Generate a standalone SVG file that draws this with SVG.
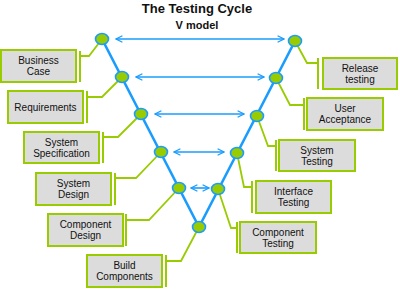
<svg xmlns="http://www.w3.org/2000/svg" width="400" height="289" viewBox="0 0 400 289">
<defs>
<style>
.t{font-family:"Liberation Sans",Arial,sans-serif;fill:#111;text-anchor:middle}
.ti{font-weight:bold;}
.bx{fill:#dcdcdc;stroke:#99cc00;stroke-width:2}
.br{stroke:#99cc00;stroke-width:2;fill:none}
.cn{stroke:#99cc00;stroke-width:1.8;fill:none}
.v{stroke:#1a9cff;stroke-width:2.6;fill:none}
.ar{stroke:#1a9cff;stroke-width:1.6;fill:none;marker-start:url(#ah);marker-end:url(#ah)}
.nd{fill:#99cc00;stroke:#1a9cff;stroke-width:1.6}
.lb{font-size:10px}
</style>
<marker id="ah" viewBox="0 0 10 10" refX="9" refY="5" markerWidth="8" markerHeight="8" markerUnits="userSpaceOnUse" orient="auto-start-reverse">
<path d="M1,1 L9,5 L1,9" stroke="#1a9cff" stroke-width="1.6" fill="none"/>
</marker>
</defs>
<rect width="400" height="289" fill="#fff"/>
<text class="t ti" x="197" y="13" font-size="13">The Testing Cycle</text>
<text class="t ti" x="197" y="29" font-size="11">V model</text>

<g id="connectors">
<polyline class="v" points="102,39 199,227 295,41"/>
<line class="ar" x1="116" y1="39" x2="284" y2="39"/>
<line class="ar" x1="136" y1="77" x2="264" y2="77"/>
<line class="ar" x1="155" y1="114" x2="244" y2="114"/>
<line class="ar" x1="174" y1="152" x2="224" y2="152"/>
<line class="ar" x1="191" y1="188" x2="209" y2="188"/>
<polyline class="cn" points="80,56 89,56 102,39"/>
<polyline class="cn" points="87,97 102,97 122,77"/>
<polyline class="cn" points="103,137 118,137 141,114"/>
<polyline class="cn" points="115,178 136,178 161,152"/>
<polyline class="cn" points="126,220 149,220 179,188"/>
<polyline class="cn" points="166,261 181,261 199,227"/>
<polyline class="cn" points="295,41 307,63 318,63"/>
<polyline class="cn" points="276,78 290,105 304,105"/>
<polyline class="cn" points="257,116 268,146 276,146"/>
<polyline class="cn" points="237,153 244,187 252,187"/>
<polyline class="cn" points="218,189 231,228 237,228"/>
</g>

<g id="n-business-case">
<line class="br" x1="80" y1="51" x2="80" y2="82"/>
<rect class="bx" x="1" y="50" width="75" height="32"/>
<text class="t lb" x="38.5" y="64">Business</text>
<text class="t lb" x="38.5" y="75">Case</text>
</g>
<g id="n-requirements">
<line class="br" x1="87" y1="91" x2="87" y2="123"/>
<rect class="bx" x="8" y="91" width="75" height="32"/>
<text class="t lb" x="45.5" y="110.5">Requirements</text>
</g>
<g id="n-system-spec">
<line class="br" x1="103" y1="132" x2="103" y2="163"/>
<rect class="bx" x="24" y="132" width="75" height="31"/>
<text class="t lb" x="61.5" y="145.5">System</text>
<text class="t lb" x="61.5" y="156.5">Specification</text>
</g>
<g id="n-system-design">
<line class="br" x1="115" y1="173" x2="115" y2="205"/>
<rect class="bx" x="36" y="173" width="75" height="32"/>
<text class="t lb" x="73.5" y="187">System</text>
<text class="t lb" x="73.5" y="198">Design</text>
</g>
<g id="n-component-design">
<line class="br" x1="126" y1="214" x2="126" y2="246"/>
<rect class="bx" x="48" y="214" width="75" height="32"/>
<text class="t lb" x="85.5" y="228">Component</text>
<text class="t lb" x="85.5" y="239">Design</text>
</g>
<g id="n-build-components">
<line class="br" x1="166" y1="255" x2="166" y2="287"/>
<rect class="bx" x="87" y="255" width="75" height="32"/>
<text class="t lb" x="124.5" y="269">Build</text>
<text class="t lb" x="124.5" y="280">Components</text>
</g>

<g id="n-release-testing">
<line class="br" x1="318" y1="58" x2="318" y2="89"/>
<rect class="bx" x="323" y="58" width="74" height="31"/>
<text class="t lb" x="360" y="72">Release</text>
<text class="t lb" x="360" y="83">testing</text>
</g>
<g id="n-user-acceptance">
<line class="br" x1="304" y1="98" x2="304" y2="130"/>
<rect class="bx" x="307" y="98" width="76" height="32"/>
<text class="t lb" x="345" y="112">User</text>
<text class="t lb" x="345" y="123">Acceptance</text>
</g>
<g id="n-system-testing">
<line class="br" x1="276" y1="140" x2="276" y2="171"/>
<rect class="bx" x="279" y="140" width="76" height="31"/>
<text class="t lb" x="317" y="154">System</text>
<text class="t lb" x="317" y="165">Testing</text>
</g>
<g id="n-interface-testing">
<line class="br" x1="252" y1="181" x2="252" y2="213"/>
<rect class="bx" x="256" y="181" width="75" height="32"/>
<text class="t lb" x="293.5" y="195">Interface</text>
<text class="t lb" x="293.5" y="206">Testing</text>
</g>
<g id="n-component-testing">
<line class="br" x1="237" y1="222" x2="237" y2="253"/>
<rect class="bx" x="240" y="222" width="76" height="31"/>
<text class="t lb" x="278" y="236">Component</text>
<text class="t lb" x="278" y="247">Testing</text>
</g>

<g id="v-nodes">
<ellipse id="n-l1" class="nd" cx="102" cy="39" rx="6.5" ry="5.5"/>
<ellipse id="n-l2" class="nd" cx="122" cy="77" rx="6.5" ry="5.5"/>
<ellipse id="n-l3" class="nd" cx="141" cy="114" rx="6.5" ry="5.5"/>
<ellipse id="n-l4" class="nd" cx="161" cy="152" rx="6.5" ry="5.5"/>
<ellipse id="n-l5" class="nd" cx="179" cy="188" rx="6.5" ry="5.5"/>
<ellipse id="n-bottom" class="nd" cx="199" cy="227" rx="6.5" ry="5.5"/>
<ellipse id="n-r1" class="nd" cx="295" cy="41" rx="6.5" ry="5.5"/>
<ellipse id="n-r2" class="nd" cx="276" cy="78" rx="6.5" ry="5.5"/>
<ellipse id="n-r3" class="nd" cx="257" cy="116" rx="6.5" ry="5.5"/>
<ellipse id="n-r4" class="nd" cx="237" cy="153" rx="6.5" ry="5.5"/>
<ellipse id="n-r5" class="nd" cx="218" cy="189" rx="6.5" ry="5.5"/>
</g>
</svg>
